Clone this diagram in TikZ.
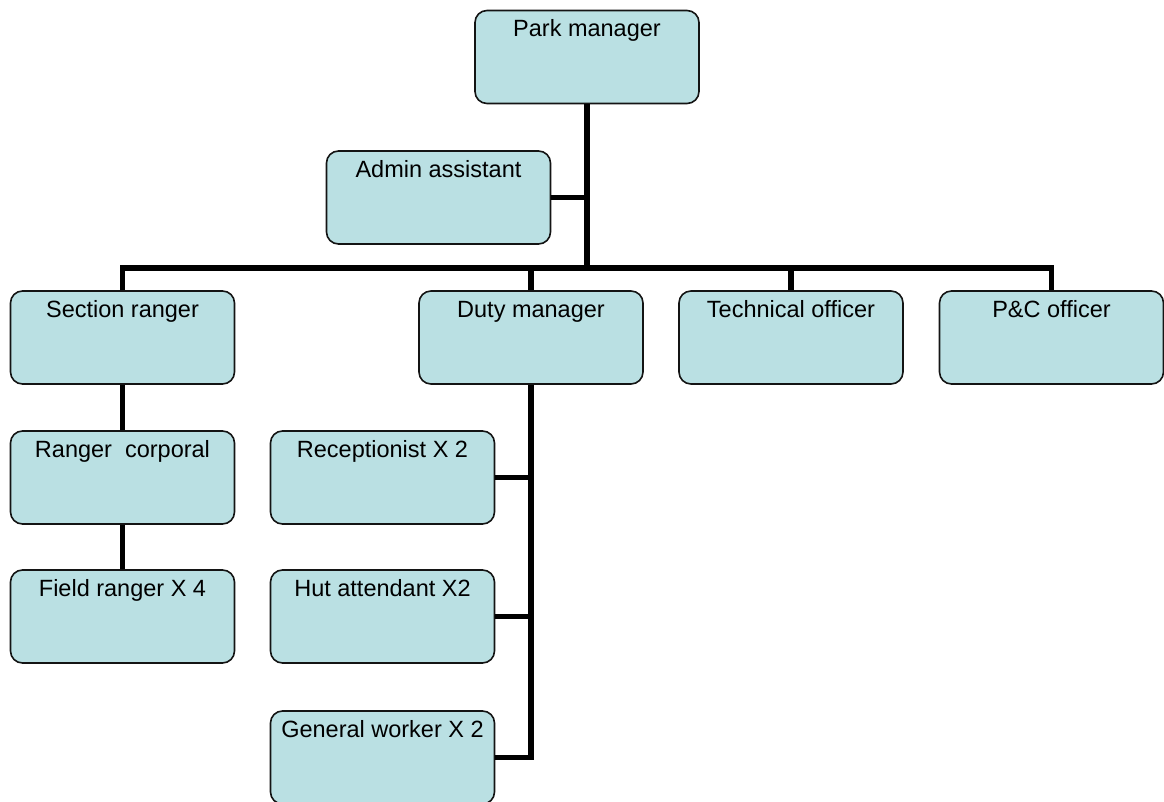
\documentclass[tikz,border=0pt]{standalone}
\usepackage{fontspec}
\setmainfont{Liberation Sans}
\definecolor{boxfill}{RGB}{186,224,227}
\definecolor{boxline}{RGB}{20,20,20}
\begin{document}
\begin{tikzpicture}[x=1pt,y=-1pt,
  orgbox/.style={draw=boxline, line width=1.6pt, fill=boxfill, rounded corners=12pt,
    minimum width=224pt, minimum height=93pt, inner sep=0pt},
  lbl/.style={anchor=base, inner sep=0pt, font=\fontsize{23.5}{28}\selectfont},
  conn/.style={line width=5.5pt, black, line join=miter}]
\useasboundingbox (0,0) rectangle (1164,802);
% boxes
\node[orgbox] (pm) at (587,57) {};
\node[orgbox] (aa) at (438.5,197.5) {};
\node[orgbox] (sr) at (122.5,337.5) {};
\node[orgbox] (dm) at (531,337.5) {};
\node[orgbox] (to) at (791,337.5) {};
\node[orgbox] (pc) at (1051.5,337.5) {};
\node[orgbox] (rc) at (122.5,477.5) {};
\node[orgbox] (fr) at (122.5,616.5) {};
\node[orgbox] (re) at (382.5,477.5) {};
\node[orgbox] (ha) at (382.5,616.5) {};
\node[orgbox] (gw) at (382.5,757.5) {};
\coordinate (bar) at (587,268);
% connectors
\draw[conn] (pm.south) -- (bar);
\draw[conn] (aa.east) -- (aa.east -| pm.south);
\draw[conn] (sr.north) |- (bar) -| (pc.north);
\draw[conn] (dm.north) -- (dm.north |- bar);
\draw[conn] (to.north) -- (to.north |- bar);
\draw[conn] (sr.south) -- (rc.north);
\draw[conn] (rc.south) -- (fr.north);
\draw[conn] (dm.south) |- (gw.east);
\draw[conn] (re.east) -- (re.east -| dm.south);
\draw[conn] (ha.east) -- (ha.east -| dm.south);
% labels
\node[lbl] (tpm) at ([yshift=-27pt]pm.north) {Park manager};
\node[lbl] (taa) at ([yshift=-27pt]aa.north) {Admin assistant};
\node[lbl] (tsr) at ([yshift=-27pt]sr.north) {Section ranger};
\node[lbl] (tdm) at ([yshift=-27pt]dm.north) {Duty manager};
\node[lbl] (tto) at ([yshift=-27pt]to.north) {Technical officer};
\node[lbl] (tpc) at ([yshift=-27pt]pc.north) {P\&C officer};
\node[lbl] (trc) at ([yshift=-27pt]rc.north) {Ranger\ \ corporal};
\node[lbl] (tfr) at ([yshift=-27pt]fr.north) {Field ranger X 4};
\node[lbl] (tre) at ([yshift=-27pt]re.north) {Receptionist X 2};
\node[lbl] (tha) at ([yshift=-27pt]ha.north) {Hut attendant X2};
\node[lbl] (tgw) at ([yshift=-27pt]gw.north) {General worker X 2};
\end{tikzpicture}
\end{document}
